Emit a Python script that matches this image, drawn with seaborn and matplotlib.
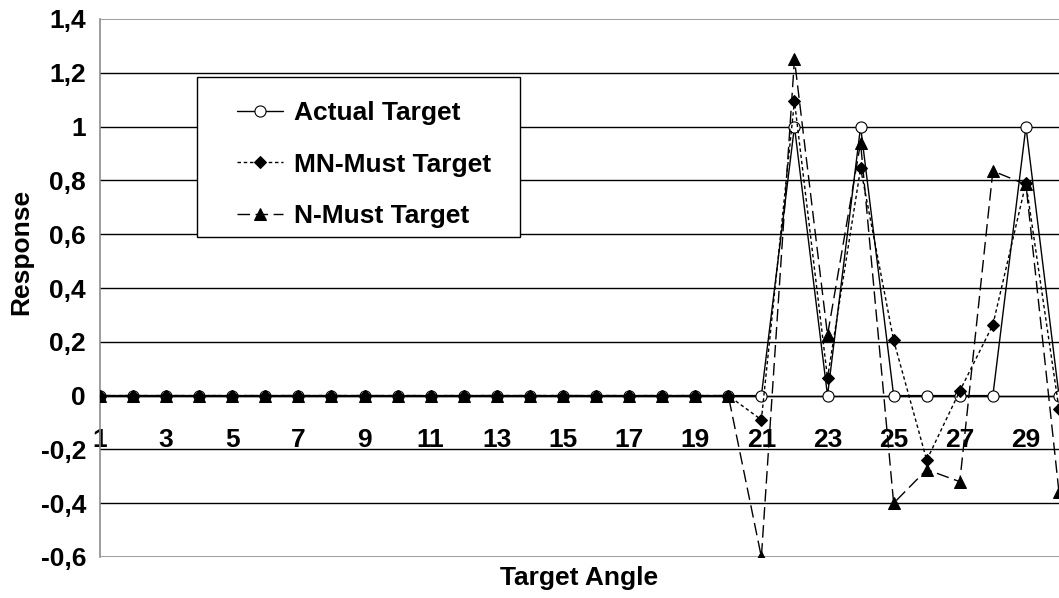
import matplotlib
matplotlib.use("Agg")
import matplotlib.pyplot as plt
from matplotlib.patches import Rectangle
import pandas as pd
import seaborn as sns

# Response of each model over the target angles 1..30
angles = list(range(1, 31))
actual_target = [0] * 21 + [1, 0, 1, 0, 0, 0, 0, 1, 0]
mn_must_target = [0] * 20 + [-0.09, 1.095, 0.065, 0.845, 0.205, -0.24, 0.017, 0.263, 0.79, -0.05]
n_must_target = [0] * 20 + [-0.60, 1.25, 0.225, 0.94, -0.40, -0.275, -0.32, 0.835, 0.785, -0.36]

y_ticks = [-0.6, -0.4, -0.2, 0, 0.2, 0.4, 0.6, 0.8, 1.0, 1.2, 1.4]
y_tick_labels = ["-0,6", "-0,4", "-0,2", "0", "0,2", "0,4", "0,6", "0,8", "1", "1,2", "1,4"]
x_label_ticks = list(range(1, 30, 2))

sns.set_style("white")
plt.rcParams["font.family"] = ["Liberation Sans", "DejaVu Sans"]
plt.rcParams["font.weight"] = "bold"
for key in ("text.color", "axes.labelcolor", "xtick.color", "ytick.color",
            "xtick.labelcolor", "ytick.labelcolor"):
    plt.rcParams[key] = "black"

W, H = 1059, 598
fig = plt.figure(figsize=(W / 100, H / 100), dpi=100)
ax = fig.add_axes([100 / W, 1 - 557 / H, 1 - 100 / W, (557 - 19) / H])

df = pd.DataFrame({
    "angle": angles,
    "Actual Target": actual_target,
    "MN-Must Target": mn_must_target,
    "N-Must Target": n_must_target,
})

# gridlines
for yv in y_ticks[1:-1]:
    ax.axhline(yv, color="black", lw=1.0, zorder=1)
for yv in (y_ticks[0], y_ticks[-1]):
    ax.axhline(yv, color="#8c8c8c", lw=1.2, zorder=1)

sns.lineplot(data=df, x="angle", y="Actual Target", ax=ax, color="black", lw=1.0,
             linestyle="-", marker="o", markersize=8, markerfacecolor="white",
             markeredgecolor="black", markeredgewidth=0.8, label="Actual Target", zorder=3)
sns.lineplot(data=df, x="angle", y="MN-Must Target", ax=ax, color="black", lw=1.0,
             linestyle=(0, (2.5, 2)), marker="D", markersize=6.5, markerfacecolor="black",
             markeredgecolor="black", label="MN-Must Target", zorder=4)
sns.lineplot(data=df, x="angle", y="N-Must Target", ax=ax, color="black", lw=1.0,
             linestyle=(0, (9, 4)), marker="^", markersize=8.5, markerfacecolor="black",
             markeredgecolor="black", label="N-Must Target", zorder=5)

ax.set_xlim(1, 1 + (W - 100) / 33.25)
ax.set_ylim(-0.6, 1.4)

# category axis crossing at zero
for s in ("top", "right"):
    ax.spines[s].set_visible(False)
ax.spines["bottom"].set_position(("data", 0))
ax.spines["bottom"].set_color("black")
ax.spines["bottom"].set_linewidth(1.0)
ax.spines["left"].set_color("#8c8c8c")
ax.spines["left"].set_linewidth(1.2)

fs = 19
ax.set_xticks(angles)
ax.set_xticklabels([str(a) if a in x_label_ticks else "" for a in angles])
ax.tick_params(axis="x", direction="out", length=5, width=1, color="black",
               pad=18, labelsize=fs, labelcolor="black")
ax.set_yticks(y_ticks)
ax.set_yticklabels(y_tick_labels)
ax.tick_params(axis="y", direction="out", length=6, width=1, color="black",
               pad=4, labelsize=fs, labelcolor="black")
for lbl in ax.get_xticklabels() + ax.get_yticklabels():
    lbl.set_fontweight("bold")

ax.set_xlabel("Target Angle", fontsize=fs, fontweight="bold", color="black")
ax.set_ylabel("Response", fontsize=fs, fontweight="bold", color="black")
ax.xaxis.set_label_coords(0.5, (557 - 566) / 538)
ax.yaxis.set_label_coords((33 - 100) / 959, (557 - 252) / 538)

# legend box and entries
ax.add_patch(Rectangle((197 / W, 1 - 237 / H), (520 - 197) / W, (237 - 77) / H,
                       transform=fig.transFigure, facecolor="white", clip_on=False,
                       edgecolor="black", lw=1.0, zorder=6))
leg = ax.legend(loc="upper left", bbox_to_anchor=(237 / W, 1 - 101 / H),
                bbox_transform=fig.transFigure, frameon=False,
                prop={"weight": "bold", "size": fs}, handlelength=1.75,
                labelspacing=1.05, borderpad=0.0, borderaxespad=0.0, handletextpad=0.4)
for t in leg.get_texts():
    t.set_color("black")
leg.set_zorder(7)

fig.savefig("out.png", dpi=100)
